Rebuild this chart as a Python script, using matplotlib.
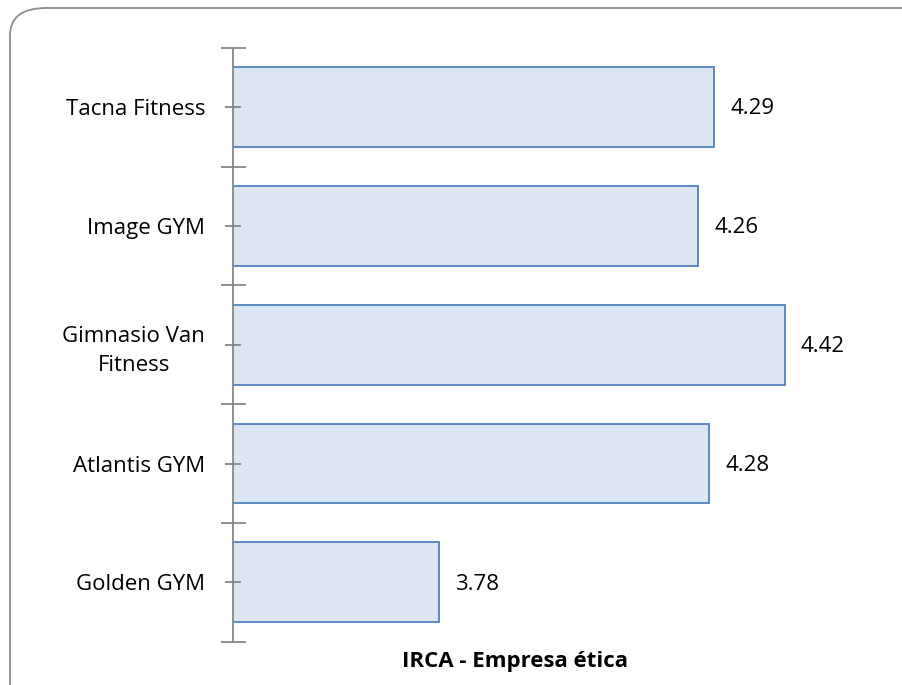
import matplotlib.pyplot as plt
from matplotlib.patches import FancyBboxPatch

gimnasios = ["Tacna Fitness", "Image GYM", "Gimnasio Van\nFitness", "Atlantis GYM", "Golden GYM"]
valores = [4.29, 4.26, 4.42, 4.28, 3.78]
titulo_x = "IRCA - Empresa ética"

plt.rcParams['font.family'] = ['Open Sans', 'DejaVu Sans']

fig = plt.figure(figsize=(9.03, 6.85), dpi=100)

# marco redondeado del gráfico
marco = FancyBboxPatch((10 / 903, -0.05), 1.2, 1.0 - 8 / 685 + 0.05,
                       boxstyle="round,pad=0,rounding_size=0.04",
                       transform=fig.transFigure, fc="none", ec="#8c8c8c",
                       lw=1.3, zorder=-1)
fig.patches.append(marco)

ax = fig.add_axes([233 / 903, 43.3 / 685, 649 / 903, 594 / 685])
ax.patch.set_alpha(0)

y = list(range(len(gimnasios)))
ax.barh(y, valores, height=0.673, left=0, color="#dce6f2",
        edgecolor="#4f81bd", linewidth=1.3)

for yi, v in zip(y, valores):
    ax.text(v + 0.03, yi + 0.015, f"{v:.2f}", va="center", ha="left", fontsize=16, color="black")

ax.set_xlim(3.4, 4.6)
ax.set_ylim(len(gimnasios) - 0.5, -0.5)

for lado in ["top", "right", "bottom"]:
    ax.spines[lado].set_visible(False)
ax.spines["left"].set_color("#868686")
ax.spines["left"].set_linewidth(1.3)
ax.set_xticks([])

ax.set_yticks(y)
ax.set_yticklabels(gimnasios, fontsize=16, multialignment="center")
for etiqueta in ax.get_yticklabels():
    etiqueta.set_linespacing(1.5)
ax.set_yticks([i - 0.5 for i in range(len(gimnasios) + 1)], minor=True)
ax.tick_params(axis="y", which="major", direction="inout", length=12, width=1.3,
               color="#868686", pad=14)
ax.tick_params(axis="y", which="minor", direction="inout", length=18, width=1.3,
               color="#868686")

fig.text(515 / 903, 1 - 662 / 685, titulo_x, ha="center", va="center",
         fontsize=16, fontweight="bold")

fig.savefig("out.png", dpi=100)
